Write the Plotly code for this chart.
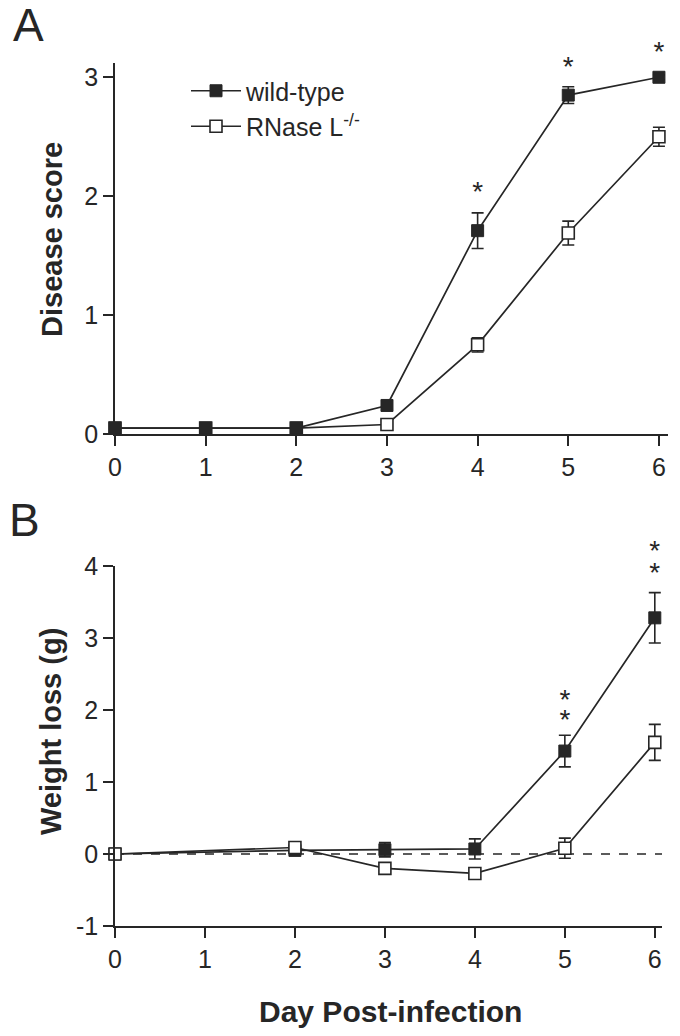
import plotly.graph_objects as go

# ---------------- data ----------------
days_a = [0, 1, 2, 3, 4, 5, 6]
wt_score = [0.05, 0.05, 0.05, 0.24, 1.71, 2.85, 3.0]
wt_score_err = [0.0, 0.0, 0.0, 0.04, 0.15, 0.07, 0.02]
ko_score = [0.05, 0.05, 0.05, 0.08, 0.75, 1.69, 2.50]
ko_score_err = [0.0, 0.0, 0.0, 0.02, 0.06, 0.10, 0.08]

days_b = [0, 2, 3, 4, 5, 6]
wt_weight = [0.0, 0.05, 0.06, 0.07, 1.43, 3.28]
wt_weight_err = [0.0, 0.0, 0.10, 0.14, 0.22, 0.35]
ko_weight = [0.0, 0.09, -0.20, -0.27, 0.08, 1.55]
ko_weight_err = [0.0, 0.0, 0.05, 0.08, 0.14, 0.25]

x_ticks = [0, 1, 2, 3, 4, 5, 6]
y_ticks_a = [0, 1, 2, 3]
y_ticks_b = [-1, 0, 1, 2, 3, 4]
y_ticks_b_text = ["-1", "0", "1", "2", "3", "4"]

# significance stars: day and value of star centre
stars_a_day = [4, 5, 6]
stars_a_val = [2.07, 3.12, 3.25]
stars_b_day = [5, 5, 6, 6]
stars_b_val = [2.19, 1.92, 4.26, 3.96]

names = ["wild-type", "RNase L<sup>-/-</sup>"]

# ---------------- style ----------------
INK = "#262626"
FONT = "Liberation Sans, Arial, sans-serif"
W, H = 680, 1036
YR_A = [0, 3.12]
YR_B = [-1, 4]
DOM_YA = [1 - 434 / H, 1 - 63 / H]
DOM_YB = [1 - 926 / H, 1 - 566 / H]
STAR_SIZE = 28
STAR_LIFT_PX = 6  # asterisk glyph sits above the text's centre line


def err(arr):
    return dict(type="data", array=arr, visible=True, color=INK, thickness=1.6, width=6)


def units_per_px(yr, dom):
    return (yr[1] - yr[0]) / ((dom[1] - dom[0]) * H)


def star_y(vals, yr, dom):
    return [v - STAR_LIFT_PX * units_per_px(yr, dom) for v in vals]


def extended(yr, dom, new_top):
    # invisible axis with identical value->pixel mapping, but taller domain
    upp = units_per_px(yr, dom)
    return [yr[0], yr[0] + (new_top - dom[0]) * H * upp]


DOM_YA_EXT = [DOM_YA[0], 1.0]
DOM_YB_EXT = [DOM_YB[0], DOM_YB[1] + 60 / H]

fig = go.Figure()

# Panel A: knockout underneath, wild-type on top
fig.add_trace(go.Scatter(
    x=days_a, y=ko_score, error_y=err(ko_score_err), mode="lines+markers",
    name=names[1], legendrank=2,
    line=dict(color=INK, width=1.7),
    marker=dict(symbol="square", size=12, color="white", line=dict(color=INK, width=1.6)),
    xaxis="x", yaxis="y", cliponaxis=False))
fig.add_trace(go.Scatter(
    x=days_a, y=wt_score, error_y=err(wt_score_err), mode="lines+markers",
    name=names[0], legendrank=1,
    line=dict(color=INK, width=1.7),
    marker=dict(symbol="square", size=12, color=INK, line=dict(color=INK, width=1)),
    xaxis="x", yaxis="y", cliponaxis=False))

# Panel B: wild-type underneath, knockout on top
fig.add_trace(go.Scatter(
    x=days_b, y=wt_weight, error_y=err(wt_weight_err), mode="lines+markers",
    showlegend=False,
    line=dict(color=INK, width=1.7),
    marker=dict(symbol="square", size=12, color=INK, line=dict(color=INK, width=1)),
    xaxis="x2", yaxis="y2", cliponaxis=False))
fig.add_trace(go.Scatter(
    x=days_b, y=ko_weight, error_y=err(ko_weight_err), mode="lines+markers",
    showlegend=False,
    line=dict(color=INK, width=1.7),
    marker=dict(symbol="square", size=12, color="white", line=dict(color=INK, width=1.6)),
    xaxis="x2", yaxis="y2", cliponaxis=False))

# significance asterisks (on invisible axes sharing the panels' scales)
fig.add_trace(go.Scatter(
    x=stars_a_day, y=star_y(stars_a_val, YR_A, DOM_YA), mode="text",
    text=["*"] * len(stars_a_day), textposition="middle center",
    textfont=dict(family=FONT, size=STAR_SIZE, color=INK),
    showlegend=False, hoverinfo="skip", cliponaxis=False, xaxis="x", yaxis="y3"))
fig.add_trace(go.Scatter(
    x=stars_b_day, y=star_y(stars_b_val, YR_B, DOM_YB), mode="text",
    text=["*"] * len(stars_b_day), textposition="middle center",
    textfont=dict(family=FONT, size=STAR_SIZE, color=INK),
    showlegend=False, hoverinfo="skip", cliponaxis=False, xaxis="x2", yaxis="y4"))

# dashed zero line in panel B
fig.add_shape(type="line", xref="x2 domain", yref="y2", x0=0, x1=1, y0=0, y1=0,
              line=dict(color=INK, width=1.6, dash="dash"), layer="below")

annotations = []
# panel letters
annotations.append(dict(x=28 / W, y=1 - 25 / H, xref="paper", yref="paper", text="A",
                        showarrow=False, font=dict(family=FONT, size=46, color=INK),
                        xanchor="center", yanchor="middle"))
annotations.append(dict(x=24 / W, y=1 - 520 / H, xref="paper", yref="paper", text="B",
                        showarrow=False, font=dict(family=FONT, size=46, color=INK),
                        xanchor="center", yanchor="middle"))

# axis titles
annotations.append(dict(x=52 / W, y=1 - 240 / H, xref="paper", yref="paper",
                        text="<b>Disease score</b>", textangle=-90, showarrow=False,
                        font=dict(family=FONT, size=29, color=INK),
                        xanchor="center", yanchor="middle"))
annotations.append(dict(x=51 / W, y=1 - 732 / H, xref="paper", yref="paper",
                        text="<b>Weight loss (g)</b>", textangle=-90, showarrow=False,
                        font=dict(family=FONT, size=29, color=INK),
                        xanchor="center", yanchor="middle"))
annotations.append(dict(x=391 / W, y=1 - 1011 / H, xref="paper", yref="paper",
                        text="<b>Day Post-infection</b>", showarrow=False,
                        font=dict(family=FONT, size=30, color=INK),
                        xanchor="center", yanchor="middle"))

axis_common = dict(showline=True, linecolor=INK, linewidth=1.6, ticks="outside",
                   ticklen=10, tickwidth=1.6, tickcolor=INK, showgrid=False,
                   zeroline=False, tickfont=dict(family=FONT, size=25, color=INK))

fig.update_layout(
    width=W, height=H,
    margin=dict(l=0, r=0, t=0, b=0, autoexpand=False),
    paper_bgcolor="white", plot_bgcolor="rgba(0,0,0,0)",
    showlegend=True,
    legend=dict(x=186 / W, y=1 - 68 / H, xanchor="left", yanchor="top",
                bgcolor="rgba(0,0,0,0)", font=dict(family=FONT, size=25, color=INK),
                itemwidth=50),
    xaxis=dict(domain=[115 / W, 668 / W], range=[0, 6.1], tickvals=x_ticks,
               anchor="y", automargin=False, **axis_common),
    yaxis=dict(domain=DOM_YA, range=YR_A, tickvals=y_ticks_a,
               anchor="x", automargin=False, **axis_common),
    xaxis2=dict(domain=[115 / W, 662 / W], range=[0, 6.08], tickvals=x_ticks,
                anchor="y2", automargin=False, **axis_common),
    yaxis2=dict(domain=DOM_YB, range=YR_B, tickvals=y_ticks_b, ticktext=y_ticks_b_text,
                anchor="x2", automargin=False, **axis_common),
    yaxis3=dict(domain=DOM_YA_EXT, range=extended(YR_A, DOM_YA, DOM_YA_EXT[1]),
                anchor="x", visible=False, showgrid=False, zeroline=False,
                automargin=False),
    yaxis4=dict(domain=DOM_YB_EXT, range=extended(YR_B, DOM_YB, DOM_YB_EXT[1]),
                anchor="x2", visible=False, showgrid=False, zeroline=False,
                automargin=False),
    annotations=annotations,
)

fig.write_html("out.html", config={"displayModeBar": False},
               post_script="document.body.style.margin='0';document.body.style.padding='0';")
